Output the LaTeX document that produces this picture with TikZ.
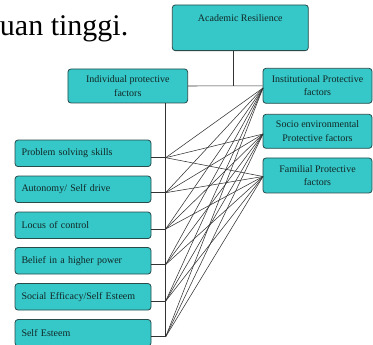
\documentclass[tikz,border=0pt]{standalone}
\usepackage{fontspec}
\setmainfont{Liberation Serif}
\usepackage{tikz}

\definecolor{boxfill}{RGB}{54,200,200}
\definecolor{boxline}{RGB}{40,75,75}
\definecolor{boxtext}{RGB}{18,38,38}
\definecolor{linkgray}{RGB}{50,50,50}

\begin{document}
\begin{tikzpicture}[x=1pt, y=-1pt,
	factor/.style={rectangle, draw=boxline, fill=boxfill, rounded corners=3pt, line width=0.8pt, text=boxtext, inner sep=0pt, font=\fontsize{10}{13.5}\selectfont},
	leftfactor/.style={factor, minimum width=136pt, minimum height=26.5pt, text width=123pt, align=left},
	rightfactor/.style={factor, minimum width=109pt, minimum height=35pt, align=center},
	link/.style={draw=linkgray, line width=0.55pt}]
				\useasboundingbox (0,0) rectangle (373,345);
				% end of the text line above the figure
				\node[anchor=base east, inner sep=0pt, font=\fontsize{30}{30}\selectfont] (tail) at (128.5,36) {uan tinggi.};
				
				% top and middle boxes
				\node[factor, minimum width=136pt, text height=16.5pt, text depth=29.2pt] (AR) at (240.3,27.8) {Academic Resilience};
				\node[factor, minimum width=119.7pt, minimum height=34pt, align=center] (IND) at (127.8,86) {Individual protective\\factors};
				\node[rightfactor] (IPF) at (317.5,85.8) {Institutional Protective\\factors};
				\node[rightfactor, minimum height=34pt] (SPF) at (317.5,131.3) {Socio environmental\\Protective factors};
				\node[rightfactor] (FPF) at (317.5,175.5) {Familial Protective\\factors};
				
				% individual factors
				\node[leftfactor] (PS) at (83,153.3) {Problem solving skills};
				\node[leftfactor] (AS) at (83,189.3) {Autonomy/ Self drive};
				\node[leftfactor] (LC) at (83,225.3) {Locus of control};
				\node[leftfactor] (BH) at (83,260.8) {Belief in a higher power};
				\node[leftfactor] (SE) at (83,296.8) {Social Efficacy/Self Esteem};
				\node[leftfactor] (ES) at (83,332.8) {Self Esteem};
				
				% junctions
				\coordinate (jAR) at (233.3,86);
				\coordinate (jPS) at (165.7,157.7);
				\coordinate (jAS) at (165.7,192.7);
				\coordinate (jLC) at (165.7,229);
				\coordinate (jBH) at (165.7,264.5);
				\coordinate (jSE) at (165.7,301);
				\coordinate (jES) at (165.7,336.7);
				\coordinate (inI) at (263,88);
				\coordinate (inS) at (263,134);
				\coordinate (inF) at (263,176.5);
				
				\draw[link] (jAR |- AR.south) -- (jAR);
				\draw[link] (IND.east) -- (IPF.west);
				\draw[link] (jES |- IND.south) -- (jES);
				
				\draw[link] (jPS -| PS.east) -- (jPS) edge (inI) edge (inS) edge (inF);
				\draw[link] (jAS -| AS.east) -- (jAS) edge (inI) edge (inS) edge (inF);
				\draw[link] (jLC -| LC.east) -- (jLC) edge (inI) edge (inS) edge (inF);
				\draw[link] (jBH -| BH.east) -- (jBH) edge (inI) edge (inS) edge (inF);
				\draw[link] (jSE -| SE.east) -- (jSE) edge (inI) edge (inS) edge (inF);
				\draw[link] (jES -| ES.east) -- (jES) edge (inI) edge (inS) edge (inF);
			\end{tikzpicture}
\end{document}
